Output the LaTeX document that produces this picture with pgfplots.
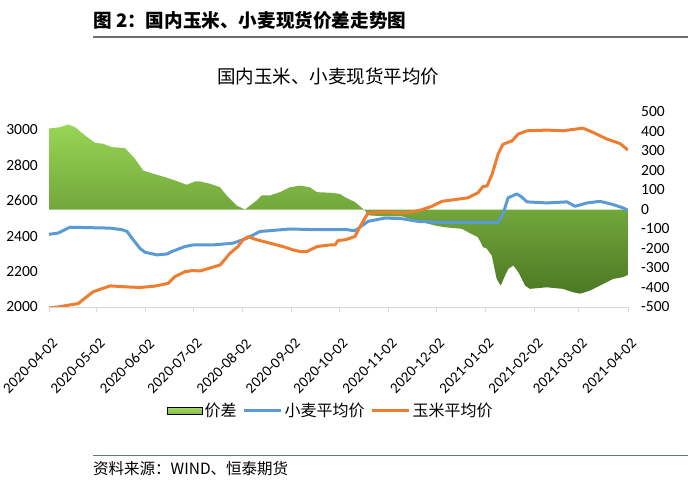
\documentclass[border=0pt]{standalone}
\usepackage{pgfplots}
\usepackage{pgfplotstable}
\pgfplotsset{compat=1.18}
\usepackage{fontspec}
\setmainfont{Carlito}
\newfontfamily\cjk{Noto Sans CJK SC}
\definecolor{wheatc}{RGB}{91,155,213}
\definecolor{cornc}{RGB}{237,125,49}
\definecolor{gtop}{RGB}{152,214,84}
\definecolor{gbot}{RGB}{76,120,36}
\definecolor{axgray}{RGB}{217,217,217}
\definecolor{rulegray}{RGB}{110,110,110}
\definecolor{footrule}{RGB}{95,120,115}
\pgfplotsset{
  linelegend/.style={legend image code/.code={\draw[##1] (0bp,0bp) -- (37bp,0bp);}},
  arealegend/.style={legend image code/.code={\fill[top color=gtop!90!white, bottom color=gtop!70!gbot] (0bp,-3.5bp) rectangle (35bp,3.5bp);}},
}

\pgfplotstableread{
d v
0 415
6.9 422
12.2 436
16.4 422
22.7 380
29.0 342
34.2 337
39.5 320
47.9 315
54.2 260
59.4 200
64.7 186
73.1 166
79.4 149
86.8 127
92.0 144
95.2 144
101.5 132
107.8 114
112.0 72
118.3 20
123.6 0
126.7 20
130.9 46
134.1 72
139.3 72
145.6 89
151.9 114
158.2 123
164.5 114
168.8 89
177.1 86
183.4 80
186.6 63
192.9 38
199.2 -5
201.1 -30
211.8 -35
222.5 -35
230.7 -55
243.3 -82
249.6 -91
260.2 -99
264.1 -116
270.4 -142
273.6 -193
275.9 -200
279.1 -236
282.2 -356
284.7 -390
287.5 -339
289.6 -304
292.7 -287
295.9 -322
300.1 -390
303.2 -407
313.7 -399
324.0 -407
330.3 -424
334.7 -432
341.0 -416
347.4 -390
355.6 -356
361.9 -347
365 -335
}\spreadtab

\pgfplotstableread{
d v
0 2410
5.7 2417
13.2 2450
38.5 2445
46.0 2436
49.2 2426
52.3 2388
57.4 2330
60.5 2309
68.1 2294
74.4 2299
77.5 2313
85.7 2341
90.8 2350
103.4 2350
116.0 2360
124.8 2388
133.0 2426
151.9 2440
169.0 2436
187.9 2436
192.9 2430
201.1 2483
211.8 2502
222.5 2498
232.6 2483
246.5 2477
254.1 2477
283.1 2477
286.2 2525
289.4 2616
295.0 2638
298.2 2619
301.3 2593
313.9 2587
326.6 2593
331.6 2568
339.2 2587
347.4 2596
355.6 2578
361.9 2559
365 2544
}\wheattab

\pgfplotstableread{
d v
0 1995
5.7 2000
12.0 2010
18.3 2019
22.7 2050
27.7 2085
32.2 2100
38.5 2119
47.9 2114
57.4 2110
66.8 2118
75.0 2133
79.4 2171
85.7 2199
90.8 2206
95.2 2203
101.5 2220
107.8 2237
109.7 2256
114.1 2303
119.1 2341
122.3 2379
125.4 2396
131.1 2379
139.3 2360
147.5 2341
153.8 2322
158.2 2313
162.6 2313
169.0 2341
177.1 2350
180.3 2350
182.2 2375
186.6 2379
189.8 2388
192.9 2398
196.1 2454
201.1 2530
211.8 2536
222.5 2530
228.8 2536
235.1 2549
241.4 2568
247.7 2596
255.9 2606
264.1 2616
270.4 2644
273.6 2680
276.1 2682
279.3 2748
283.1 2862
286.2 2918
291.9 2937
295.7 2975
301.3 2994
313.9 2998
324.0 2994
336.6 3009
342.9 2985
351.8 2947
360.0 2922
365 2885
}\corntab

\begin{document}
\begin{tikzpicture}
\path[use as bounding box] (0bp,0bp) rectangle (692bp,488bp);
% header
\node[anchor=west, inner sep=0pt, font=\cjk\bfseries\fontsize{18.6bp}{20bp}\selectfont] at (93bp,468bp) {图 2：国内玉米、小麦现货价差走势图};
\draw[line width=1.5bp, color=rulegray] (93bp,451bp) -- (688bp,451bp);
% chart title
\node[inner sep=0pt, font=\cjk\fontsize{18.5bp}{20bp}\selectfont] at (328.4bp,411.3bp) {国内玉米、小麦现货平均价};

% right axis: spread area
\begin{axis}[
  at={(49bp,181bp)}, anchor=south west,
  scale only axis, width=579bp, height=195bp,
  xmin=0, xmax=365, ymin=-500, ymax=500,
  axis x line=none,
  axis y line*=right,
  y axis line style={draw=none},
  ytick={-500,-400,...,500},
  ytick style={draw=none},
  major tick length=0pt,
  yticklabel style={anchor=west, inner sep=0pt, xshift=13bp, font=\fontsize{15.5bp}{17bp}\selectfont},
  /pgf/number format/assume math mode=true,
]
\addplot[draw=none, top color=gtop, bottom color=gbot] table[x=d,y=v]{\spreadtab} \closedcycle;
\end{axis}

% left axis: price lines
\begin{axis}[
  at={(49bp,181bp)}, anchor=south west,
  scale only axis, width=579bp, height=195bp,
  xmin=0, xmax=365, ymin=2000, ymax=3100,
  axis x line*=bottom, axis y line*=left,
  y axis line style={draw=none},
  x axis line style={draw=axgray, line width=0.8bp},
  ytick={2000,2200,...,3000},
  ytick style={draw=none},
  xtick={0,30,61,91,122,153,183,214,244,275,306,334,365},
  xticklabels={2020-04-02,2020-05-02,2020-06-02,2020-07-02,2020-08-02,2020-09-02,2020-10-02,2020-11-02,2020-12-02,2021-01-02,2021-02-02,2021-03-02,2021-04-02},
  xtick align=outside,
  xtick style={draw=axgray, line width=0.8bp},
  major tick length=5bp,
  xticklabel style={font=\fontsize{15bp}{17bp}\selectfont, inner sep=0pt, xshift=6bp, yshift=-29bp, rotate=45, anchor=east},
  yticklabel style={anchor=east, inner sep=0pt, xshift=-11bp, font=\fontsize{15.5bp}{17bp}\selectfont},
  /pgf/number format/assume math mode=true,
  /pgf/number format/1000 sep={},
  legend style={at={(0.487,-0.533)}, anchor=center, draw=none, fill=none,
    font=\cjk\fontsize{16bp}{18bp}\selectfont, inner sep=0pt,
    /tikz/every even column/.append style={column sep=4bp},
    nodes={inner xsep=2bp, inner ysep=0pt}},
  legend columns=3,
]
\addlegendimage{arealegend}
\addlegendentry{价差}
\addplot[color=wheatc, line width=3bp, line join=round, linelegend] table[x=d,y=v]{\wheattab};
\addlegendentry{小麦平均价}
\addplot[color=cornc, line width=3bp, line join=round, linelegend] table[x=d,y=v]{\corntab};
\addlegendentry{玉米平均价}
\end{axis}

% footer
\draw[line width=1bp, color=footrule] (93bp,32bp) -- (688bp,32bp);
\node[anchor=west, inner sep=0pt, font=\cjk\fontsize{15.5bp}{17bp}\selectfont] at (93bp,19bp) {资料来源：WIND、恒泰期货};
\end{tikzpicture}
\end{document}
